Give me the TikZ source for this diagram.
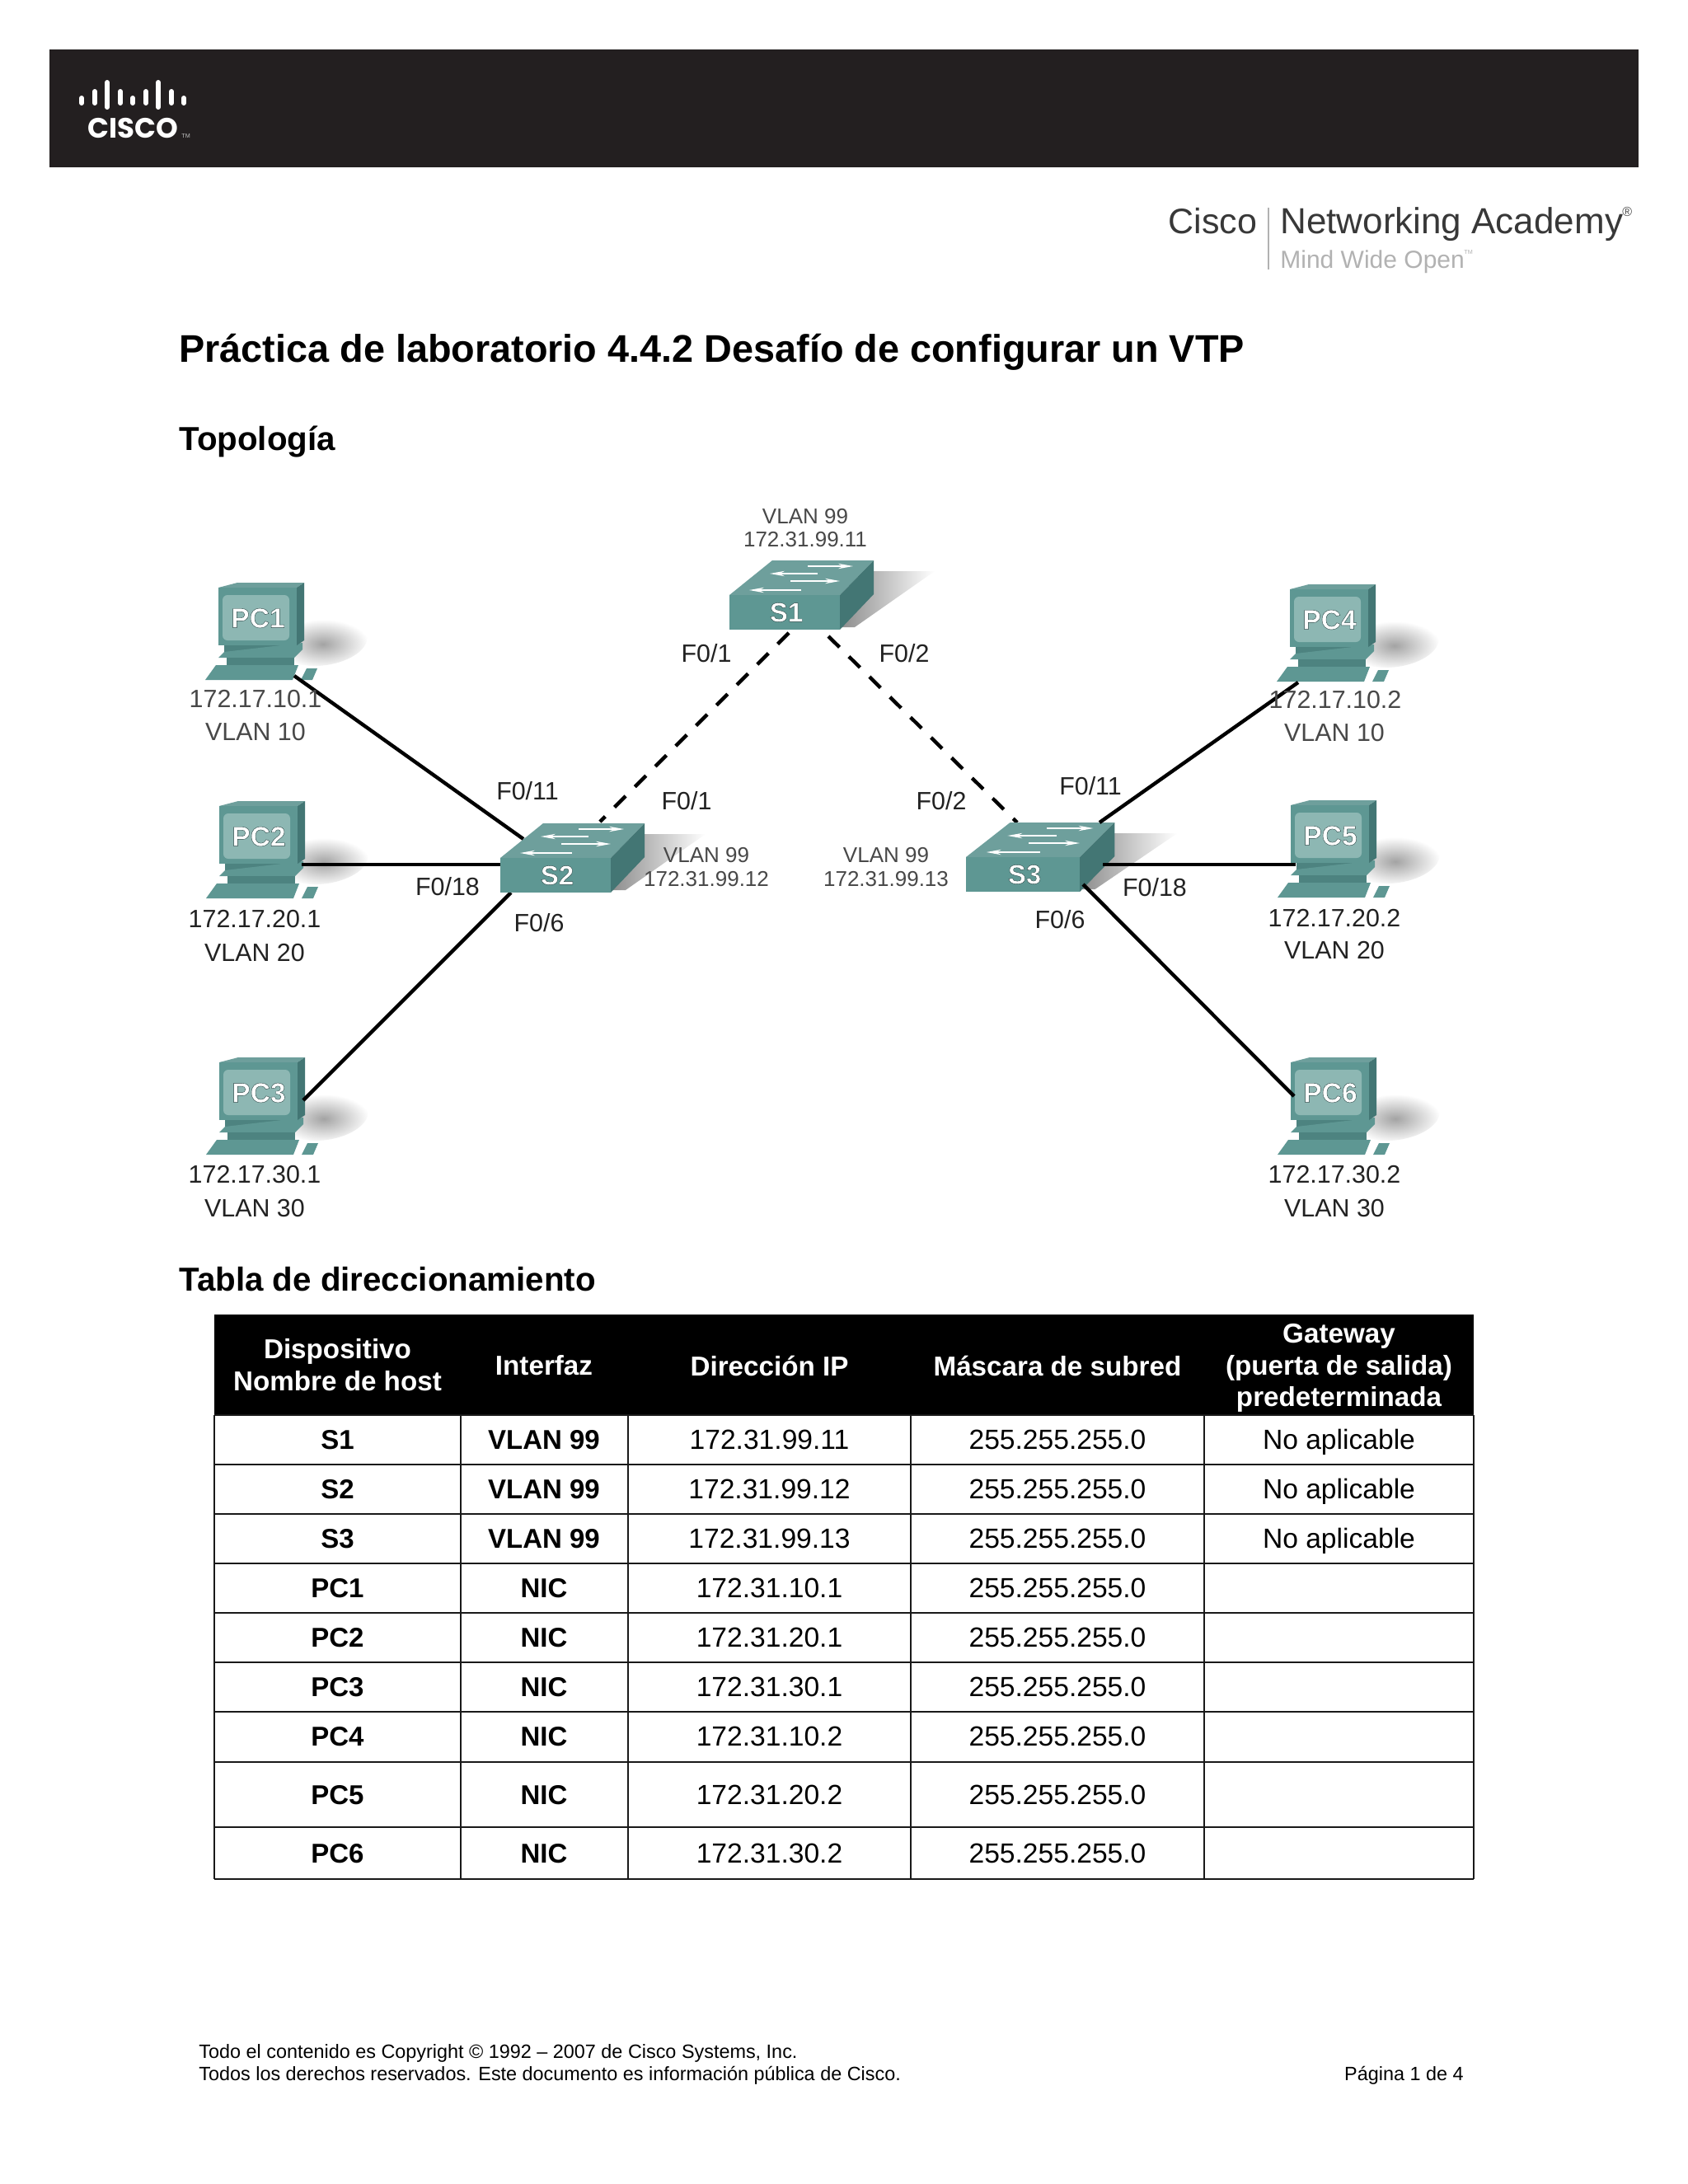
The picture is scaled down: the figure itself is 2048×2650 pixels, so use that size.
\documentclass[tikz,border=0pt]{standalone}
\usepackage{fontspec}
\setmainfont{Liberation Sans}
\newfontfamily\logofont{Poppins}
\usetikzlibrary{arrows.meta}
\definecolor{barcol}{HTML}{231F20}
\definecolor{tfront}{HTML}{5E9793}
\definecolor{ttop}{HTML}{6E9F9C}
\definecolor{tside}{HTML}{437674}
\definecolor{tscreen}{HTML}{8DB7B3}
\definecolor{tdark}{HTML}{4D8380}
\definecolor{blurtxt}{HTML}{484848}
\definecolor{sharptxt}{HTML}{222222}
\newcommand{\halo}[1]{\special{pdf:code q 2 Tr 0.2 w 0.16 0.27 0.27 RG}#1\special{pdf:code Q}}
\tikzset{
  x=0.5pt,y=-0.5pt,
  lbl/.style={inner sep=0pt,text=sharptxt,font=\fontsize{15.2}{18}\selectfont},
  lblsoft/.style={inner sep=0pt,text=blurtxt,font=\fontsize{15.2}{18}\selectfont},
  swlbl/.style={inner sep=0pt,text=blurtxt,font=\fontsize{13}{15}\selectfont},
  heading/.style={inner sep=0pt,anchor=base west,font=\fontsize{20.15}{24}\selectfont\bfseries},
  foot/.style={inner sep=0pt,anchor=base west,font=\fontsize{11.7}{14}\selectfont},
  hdcell/.style={inner sep=0pt,text=white,align=center,font=\fontsize{16.6}{19.4}\selectfont\bfseries},
  boldcell/.style={inner sep=0pt,anchor=base,font=\fontsize{16.5}{20}\selectfont\bfseries},
  plaincell/.style={inner sep=0pt,anchor=base,font=\fontsize{16.8}{20}\selectfont},
  solidlink/.style={line width=2.2pt,black},
  dashlink/.style={line width=2.2pt,black,dash pattern=on 9.5pt off 8pt},
  bar/.style={line width=3pt,white,line cap=round},
  grid/.style={line width=1pt,black!90},
  swarrow/.style={line width=0.7pt,white,-{Stealth[length=9pt,width=3.2pt]}},
  pics/pcicon/.style={code={
    \shade[inner color=black!36,outer color=white,rotate=8] (74,40) ellipse [x radius=54,y radius=28];
    \fill[tdark] (-41,33) rectangle (46,42);
    \fill[tfront] (-48,48) -- (-41,41) -- (54,30) -- (54,38) -- (44,48) -- cycle;
    \fill[tdark] (-38,48) rectangle (44,57);
    \fill[tfront] (-64,75) -- (-51,57) -- (49,57) -- (42,75) -- cycle;
    \fill[tfront] (52,75) -- (59,61) -- (72,61) -- (66,75) -- cycle;
    \fill[ttop] (-48,-37) -- (-25,-43) -- (56,-43) -- (47,-37) -- cycle;
    \fill[tside] (47,-37) -- (56,-43) -- (56,27) -- (47,33) -- cycle;
    \fill[tfront] (-48,-37) rectangle (47,33);
    \fill[tscreen,rounded corners=3pt] (-43,-28) rectangle (38,27);
    \node[inner sep=0pt,text=white,font=\fontsize{16.8}{20}\selectfont\bfseries] at (0,0) {\halo{#1}};
  }},
  pics/swicon/.style={code={
    \shade[left color=black!48,right color=white] (95,-50) -- (182,-50) -- (85,18) -- (60,18) -- cycle;
    \fill[ttop] (-67,-21) -- (-15,-63) -- (108,-63) -- (67,-21) -- cycle;
    \fill[tside] (67,-21) -- (108,-63) -- (108,-22) -- (67,21) -- cycle;
    \fill[tfront] (-67,-21) rectangle (67,21);
    \draw[swarrow] (28,-56) -- (83,-56);
    \draw[swarrow] (40,-47) -- (-18,-47);
    \draw[swarrow] (7,-38) -- (67,-38);
    \draw[swarrow] (20,-27) -- (-43,-27);
    \node[inner sep=0pt,text=white,font=\fontsize{16.5}{18}\selectfont\bfseries] at (2,0) {\halo{#1}};
  }},
}
\begin{document}
\begin{tikzpicture}
\useasboundingbox (0,0) rectangle (2048,2650);
\fill[white] (0,0) rectangle (2048,2650);
% header band
\fill[barcol] (60,60) rectangle (1988,203);
\foreach \bx/\ba/\bb in {99/119/125,115/111/125,130/100/130,146/111/125,161/119/125,177/111/125,192/100/130,208/111/125,223/119/125}
  \draw[bar] (\bx,\ba) -- (\bx,\bb);
\node[inner sep=0pt,anchor=base,text=white,font=\logofont\fontsize{17}{20}\selectfont\bfseries] (ciscoword) at (161.5,167) {CISCO};
\node[inner sep=0pt,anchor=base west,text=white!75!black,font=\fontsize{3.6}{4}\selectfont] (ciscotm) at (220,167) {TM};
% academy logo
\node[inner sep=0pt,anchor=base west,text=black!78,font=\fontsize{21.5}{26}\selectfont] (cna1) at (1417,283) {Cisco};
\draw[black!30,line width=1pt] (1539,252) -- (1539,327);
\node[inner sep=0pt,anchor=base west,text=black!78,font=\fontsize{22}{26}\selectfont] (cna2) at (1553,283) {Networking Academy};
\node[inner sep=0pt,anchor=base west,text=black!70,font=\fontsize{8}{10}\selectfont] (cna3) at (1968,262) {®};
\node[inner sep=0pt,anchor=base west,text=black!30,font=\fontsize{15}{18}\selectfont] (cna4) at (1553,325) {Mind Wide Open};
\node[inner sep=0pt,anchor=base west,text=black!30,font=\fontsize{3.6}{4}\selectfont] (cna5) at (1776,308) {TM};
% headings
\node[heading,font=\fontsize{23.4}{28}\selectfont\bfseries] (title) at (217,439) {Práctica de laboratorio 4.4.2 Desafío de configurar un VTP};
\node[heading] (topo) at (217,546) {Topología};
\node[heading] (tabla) at (217,1566) {Tabla de direccionamiento};
% ports
\coordinate (pc1p) at (357,820);
\coordinate (pc2p) at (366,1049);
\coordinate (pc3p) at (368,1335);
\coordinate (pc4p) at (1575,828);
\coordinate (pc5p) at (1572,1049);
\coordinate (pc6p) at (1570,1330);
\coordinate (s2a) at (635,1018);
\coordinate (s2b) at (610,1049);
\coordinate (s2c) at (620,1083);
\coordinate (s2up) at (728,997);
\coordinate (s1l) at (957,768);
\coordinate (s1r) at (1005,772);
\coordinate (s3up) at (1234,998);
\coordinate (s3a) at (1334,998);
\coordinate (s3b) at (1338,1049);
\coordinate (s3c) at (1314,1073);
% computers
\pic at (313,750) {pcicon=PC1};
\pic at (314,1015) {pcicon=PC2};
\pic at (314,1326) {pcicon=PC3};
\pic at (1613,752) {pcicon=PC4};
\pic at (1614,1014) {pcicon=PC5};
\pic at (1614,1326) {pcicon=PC6};
% links
\draw[solidlink] (pc1p) -- (s2a);
\draw[solidlink] (pc2p) -- (s2b);
\draw[solidlink] (pc3p) -- (s2c);
\draw[dashlink] (s1l) -- (s2up);
\draw[dashlink] (s1r) -- (s3up);
% switches
\pic at (952,743) {swicon=S1};
\pic at (674,1062) {swicon=S2};
\pic[xscale=1.03] at (1241,1061) {swicon=S3};
% links that lie over the shadow of S3
\draw[solidlink] (pc4p) -- (s3a);
\draw[solidlink] (pc5p) -- (s3b);
\draw[solidlink] (pc6p) -- (s3c);
% device labels
\node[lblsoft] (ip1) at (310,848) {172.17.10.1};
\node[lblsoft] (vl1) at (310,888) {VLAN 10};
\node[lbl] (ip2) at (309,1115) {172.17.20.1};
\node[lbl] (vl2) at (309,1156) {VLAN 20};
\node[lbl] (ip3) at (309,1425) {172.17.30.1};
\node[lbl] (vl3) at (309,1466) {VLAN 30};
\node[lblsoft] (ip4) at (1620,849) {172.17.10.2};
\node[lblsoft] (vl4) at (1619,889) {VLAN 10};
\node[lbl] (ip5) at (1619,1114) {172.17.20.2};
\node[lbl] (vl5) at (1619,1153) {VLAN 20};
\node[lbl] (ip6) at (1619,1425) {172.17.30.2};
\node[lbl] (vl6) at (1619,1466) {VLAN 30};
\node[swlbl] (s1v) at (977,627) {VLAN 99};
\node[swlbl] (s1i) at (977,655) {172.31.99.11};
\node[swlbl] (s2v) at (857,1038) {VLAN 99};
\node[swlbl] (s2i) at (857,1067) {172.31.99.12};
\node[swlbl] (s3v) at (1075,1038) {VLAN 99};
\node[swlbl] (s3i) at (1075,1067) {172.31.99.13};
% port labels
\node[lbl] (f1) at (857,793) {F0/1};
\node[lbl] (f2) at (1097,793) {F0/2};
\node[lbl] (f3) at (640,960) {F0/11};
\node[lbl] (f4) at (833,972) {F0/1};
\node[lbl] (f5) at (543,1076) {F0/18};
\node[lbl] (f6) at (654,1120) {F0/6};
\node[lbl] (f7) at (1142,972) {F0/2};
\node[lbl] (f8) at (1323,954) {F0/11};
\node[lbl] (f9) at (1401,1077) {F0/18};
\node[lbl] (f10) at (1286,1116) {F0/6};
% table
\fill[black] (260,1595) rectangle (1788,1717);
\node[hdcell] (h1) at (409.5,1656) {Dispositivo\\Nombre de host};
\node[hdcell] (h2) at (660,1657) {Interfaz};
\node[hdcell] (h3) at (933.5,1657) {Dirección IP};
\node[hdcell] (h4) at (1283,1657) {Máscara de subred};
\node[hdcell] (h5) at (1624.5,1660) {Gateway\\(puerta de salida)\\predeterminada};
\foreach \ry in {1717,1777,1837,1897,1957,2017,2077,2138,2217,2280}
  \draw[grid] (260,\ry) -- (1788,\ry);
\foreach \cx in {260,559,762,1105,1461,1788}
  \draw[grid] (\cx,1717) -- (\cx,2280);
\foreach \cy/\ca/\cb/\cc/\cd in {
  1758/S1/VLAN 99/172.31.99.11/No aplicable,
  1818/S2/VLAN 99/172.31.99.12/No aplicable,
  1878/S3/VLAN 99/172.31.99.13/No aplicable,
  1938/PC1/NIC/172.31.10.1/,
  1998/PC2/NIC/172.31.20.1/,
  2058/PC3/NIC/172.31.30.1/,
  2118/PC4/NIC/172.31.10.2/,
  2189/PC5/NIC/172.31.20.2/,
  2260/PC6/NIC/172.31.30.2/}{
  \node[boldcell] at (409.5,\cy) {\ca};
  \node[boldcell] at (660,\cy) {\cb};
  \node[plaincell] at (933.5,\cy) {\cc};
  \node[plaincell] at (1283,\cy) {255.255.255.0};
  \node[plaincell] at (1624.5,\cy) {\cd};
}
% footer
\node[foot] (fa) at (241,2497) {Todo el contenido es Copyright © 1992 – 2007 de Cisco Systems, Inc.};
\node[foot] (fb) at (241,2524) {Todos los derechos reservados. Este documento es información pública de Cisco.};
\node[foot,anchor=base east] (fc) at (1776,2524) {Página 1 de 4};
\end{tikzpicture}
\end{document}
